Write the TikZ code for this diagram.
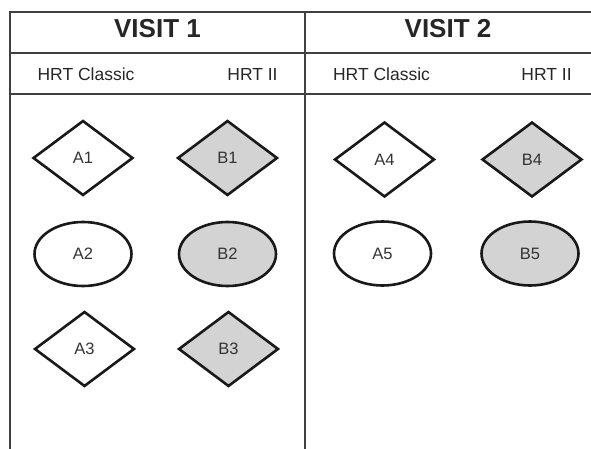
\documentclass[tikz,border=0pt]{standalone}
\usepackage{fontspec}
\setmainfont{Liberation Sans}
\usetikzlibrary{shapes.geometric}
\definecolor{shapegrey}{HTML}{D3D3D3}
\definecolor{tableline}{HTML}{404040}
\begin{document}
\begin{tikzpicture}[x=1pt,y=-1pt,
  tline/.style={draw=tableline,line width=2pt},
  visit/.style={font=\fontsize{26}{26}\selectfont\bfseries,text=black!85,inner sep=0},
  sub/.style={font=\fontsize{17.5}{18}\selectfont,text=black!85,inner sep=0},
  dia/.style={diamond,draw=black!90,line width=2.6pt,inner sep=0,minimum width=100pt,minimum height=75pt,font=\fontsize{16.5}{17}\selectfont,text=black!80},
  ell/.style={ellipse,draw=black!90,line width=2.6pt,inner sep=0,minimum width=97pt,minimum height=64pt,font=\fontsize{16.5}{17}\selectfont,text=black!80},
  wfill/.style={fill=white},
  gfill/.style={fill=shapegrey}]
\useasboundingbox (0,0) rectangle (591,449);
% table
\draw[tline] (591,12) -- (10,12) -- (10,449);
\draw[tline] (305,12) -- (305,449);
\draw[tline] (10,53) -- (591,53);
\draw[tline] (10,94) -- (591,94);
% headers
\node[visit] (v1) at (157.5,29) {VISIT 1};
\node[visit] (v2) at (448,29) {VISIT 2};
\node[sub] (h1) at (86,74) {HRT Classic};
\node[sub] (h2) at (252.5,74) {HRT II};
\node[sub] (h3) at (381.5,74) {HRT Classic};
\node[sub] (h4) at (546.5,74) {HRT II};
% shapes visit 1
\node[dia,wfill] (A1) at (83,158) {A1};
\node[dia,gfill] (B1) at (227.5,158) {B1};
\node[ell,wfill] (A2) at (83,254) {A2};
\node[ell,gfill] (B2) at (227.5,254) {B2};
\node[dia,wfill] (A3) at (84.5,349) {A3};
\node[dia,gfill] (B3) at (228.5,349) {B3};
% shapes visit 2
\node[dia,wfill] (A4) at (384.5,159.5) {A4};
\node[dia,gfill] (B4) at (532,159.5) {B4};
\node[ell,wfill] (A5) at (382.5,253.5) {A5};
\node[ell,gfill] (B5) at (530,253.5) {B5};
\end{tikzpicture}
\end{document}
